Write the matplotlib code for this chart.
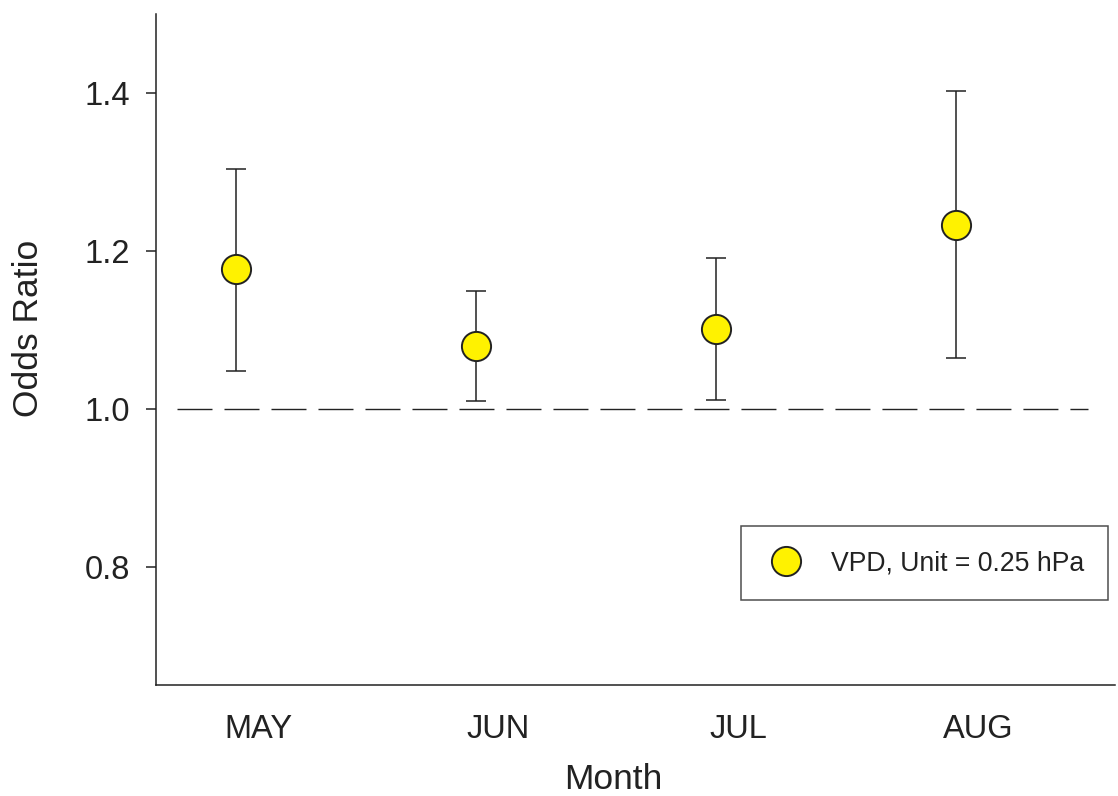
import matplotlib
matplotlib.use("Agg")
import matplotlib.pyplot as plt
import numpy as np

months = ["MAY", "JUN", "JUL", "AUG"]
odds = [1.177, 1.080, 1.101, 1.233]
lower = [1.048, 1.010, 1.011, 1.064]
upper = [1.304, 1.149, 1.191, 1.403]
yticks = [0.8, 1.0, 1.2, 1.4]
legend_label = "VPD, Unit = 0.25 hPa"

plt.rcParams['font.family'] = ['Liberation Sans', 'DejaVu Sans']
ink = '#222222'

fig = plt.figure(figsize=(11.18, 7.96), dpi=100)
ax = fig.add_axes([156/1118, 1-685/796, (1115-156)/1118, (685-14)/796])

x = np.arange(1, len(months)+1)
odds_a = np.array(odds)
yerr = [odds_a - np.array(lower), np.array(upper) - odds_a]

ax.axhline(1.0, xmin=(176.7-156)/959, xmax=(1088-156)/959, color=ink, lw=1.0,
           dashes=(35/1.389, 12/1.389), zorder=1)

ax.errorbar(x, odds, yerr=yerr, fmt='none', ecolor=ink, elinewidth=1.1,
            capsize=7.5, capthick=1.1, zorder=2)
ax.plot(x, odds, 'o', ms=21, mfc='#fff200', mec=ink, mew=1.4, zorder=3,
        label=legend_label, linestyle='none')

ax.set_xlim(1 - 80/240, 1 + 879/240)
ax.set_ylim(0.65, 1.5)
ax.set_yticks(yticks)
ax.set_yticklabels([f"{v:.1f}" for v in yticks])
ax.set_xticks(x + 22/240)
ax.set_xticklabels(months)

for s in ['top', 'right']:
    ax.spines[s].set_visible(False)
for s in ['left', 'bottom']:
    ax.spines[s].set_color(ink)
    ax.spines[s].set_linewidth(1.1)

ax.tick_params(axis='y', direction='out', length=7.5, width=1.1, color=ink,
               labelsize=23.5, labelcolor=ink, pad=11)
ax.tick_params(axis='x', length=0, labelsize=23.5, labelcolor=ink, pad=21)

ax.set_xlabel("Month", fontsize=25.5, color=ink)
ax.set_ylabel("Odds Ratio", fontsize=25.5, color=ink)
ax.xaxis.set_label_coords((613-156)/959, (685-763)/671)
ax.yaxis.set_label_coords((45-156)/959, (685-328)/671)

leg = ax.legend(loc='center', bbox_to_anchor=(924.5/1118, 1-563/796),
                bbox_transform=fig.transFigure, fontsize=19.2, frameon=True,
                fancybox=False, edgecolor=ink, borderpad=0.9, handletextpad=0.9,
                handlelength=1.6, borderaxespad=0)
leg.get_frame().set_linewidth(1.1)
for t in leg.get_texts():
    t.set_color(ink)

fig.savefig("out.png", dpi=100)
